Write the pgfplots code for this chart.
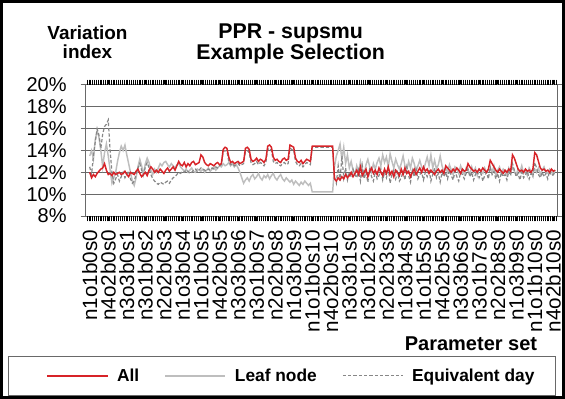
\documentclass[border=0pt]{standalone}
\usepackage{pgfplots}
\pgfplotsset{compat=1.18}
\usepackage{pgfplotstable}
\usepackage{fontspec}
\setmainfont{Liberation Sans}
\definecolor{allred}{RGB}{215,35,40}
\definecolor{leafgray}{RGB}{190,190,190}
\definecolor{eqgray}{RGB}{135,135,135}
\definecolor{gridgray}{RGB}{105,105,105}

\pgfplotstableread[row sep=\\]{y\\
12.0\\11.5\\11.8\\11.6\\11.9\\12.1\\12.3\\12.4\\12.8\\12.2\\11.8\\11.9\\
11.7\\12.0\\11.8\\11.9\\12.0\\11.8\\11.9\\12.1\\11.8\\11.6\\12.0\\11.9\\
11.8\\12.1\\12.3\\11.9\\11.6\\11.8\\12.0\\11.7\\12.2\\12.5\\12.3\\12.0\\
12.2\\12.0\\12.3\\12.1\\11.9\\12.2\\12.4\\12.1\\12.3\\12.5\\12.2\\12.6\\
13.0\\12.7\\12.6\\12.9\\12.5\\12.8\\12.6\\12.9\\13.0\\12.7\\12.8\\12.9\\
13.6\\13.4\\12.9\\12.7\\12.6\\12.8\\12.7\\12.6\\12.8\\12.9\\12.7\\12.8\\
14.1\\14.3\\14.2\\13.4\\12.9\\13.0\\12.8\\12.9\\13.0\\12.8\\12.9\\13.0\\
14.2\\14.3\\14.1\\13.2\\13.0\\13.1\\13.3\\13.0\\13.2\\13.1\\12.9\\13.2\\
14.4\\14.5\\14.3\\13.4\\13.1\\13.2\\13.0\\12.9\\13.2\\13.3\\13.1\\13.2\\
14.5\\14.4\\14.3\\13.3\\13.0\\12.9\\13.1\\12.8\\13.0\\13.2\\13.1\\13.0\\
14.4\\14.4\\14.4\\14.4\\14.4\\14.4\\14.4\\14.4\\14.4\\14.4\\14.4\\14.4\\
11.4\\11.2\\11.5\\11.3\\11.6\\11.4\\11.8\\11.5\\11.7\\12.0\\11.6\\11.9\\
12.2\\11.8\\12.5\\11.7\\12.0\\12.3\\11.6\\12.1\\12.4\\11.9\\12.2\\11.8\\
12.4\\12.0\\11.7\\12.3\\11.9\\12.5\\11.8\\12.1\\11.6\\12.2\\12.0\\11.7\\
12.3\\11.8\\12.4\\11.9\\12.1\\11.6\\12.0\\12.3\\11.8\\12.1\\12.4\\12.0\\
12.5\\12.1\\12.3\\11.9\\12.2\\12.0\\11.8\\12.1\\12.3\\12.0\\12.2\\11.9\\
12.6\\12.4\\12.2\\12.0\\12.3\\12.1\\12.4\\12.2\\11.9\\12.3\\12.1\\12.2\\
12.8\\12.5\\12.3\\12.1\\12.2\\12.0\\12.3\\12.1\\12.4\\12.2\\12.0\\12.3\\
13.1\\12.8\\12.5\\12.2\\12.0\\12.3\\12.1\\11.9\\12.2\\12.0\\12.3\\12.1\\
13.6\\13.3\\12.8\\12.3\\12.1\\12.2\\12.0\\12.3\\12.1\\12.2\\12.0\\12.3\\
13.8\\13.6\\13.0\\12.4\\12.2\\12.3\\12.1\\12.2\\12.0\\12.3\\12.1\\12.2\\
}\tAll

\pgfplotstableread[row sep=\\]{y\\
13.5\\14.0\\13.2\\15.0\\15.8\\15.2\\14.0\\12.5\\13.8\\14.6\\13.5\\12.2\\
11.0\\11.5\\12.0\\13.0\\13.8\\14.4\\14.0\\14.5\\13.6\\12.8\\12.0\\11.2\\
10.8\\11.5\\12.5\\13.2\\12.6\\11.8\\12.8\\13.3\\12.9\\12.2\\11.8\\12.3\\
12.0\\12.4\\12.8\\12.6\\12.9\\13.0\\12.7\\12.5\\12.8\\12.6\\12.4\\12.7\\
12.8\\12.5\\12.3\\12.1\\12.3\\12.0\\12.2\\12.4\\12.1\\12.0\\12.3\\12.2\\
12.1\\12.3\\12.0\\12.2\\12.4\\12.1\\12.3\\12.5\\12.2\\12.4\\12.6\\12.5\\
12.8\\12.6\\12.7\\12.9\\12.6\\12.8\\12.5\\12.7\\12.4\\12.0\\11.5\\11.0\\
11.3\\11.5\\11.2\\11.6\\11.8\\11.4\\11.6\\11.9\\11.5\\11.3\\11.7\\11.5\\
11.8\\11.4\\11.7\\11.9\\11.5\\11.3\\11.6\\11.8\\11.4\\11.2\\11.5\\11.3\\
11.1\\11.3\\10.9\\11.2\\11.0\\10.8\\11.1\\10.9\\11.2\\11.0\\10.8\\11.0\\
10.2\\10.2\\10.2\\10.2\\10.2\\10.2\\10.2\\10.2\\10.2\\10.2\\10.2\\10.2\\
12.5\\13.5\\14.0\\14.6\\13.2\\14.3\\12.8\\13.6\\12.4\\13.0\\12.2\\11.8\\
12.6\\12.0\\13.0\\12.3\\11.8\\12.7\\13.2\\12.5\\12.0\\12.8\\12.3\\12.9\\
13.3\\12.6\\13.6\\12.9\\13.4\\12.5\\13.7\\13.0\\12.4\\13.2\\12.7\\12.3\\
12.8\\13.5\\12.6\\12.2\\13.0\\12.4\\13.3\\12.8\\12.1\\12.6\\13.1\\12.5\\
12.2\\12.8\\13.4\\12.6\\13.6\\12.4\\13.1\\12.3\\12.7\\13.5\\12.6\\12.0\\
12.4\\12.0\\12.7\\12.2\\11.8\\12.5\\12.3\\11.9\\12.6\\12.1\\11.8\\12.4\\
12.2\\11.8\\12.5\\12.0\\12.4\\11.7\\12.3\\12.1\\11.9\\12.4\\12.0\\12.2\\
12.3\\12.0\\12.6\\11.8\\12.2\\12.5\\11.9\\12.3\\12.1\\11.7\\12.4\\12.0\\
12.5\\12.1\\11.8\\12.3\\12.0\\12.6\\11.9\\12.2\\11.7\\12.4\\12.1\\11.9\\
12.3\\12.0\\12.4\\11.8\\12.2\\12.5\\12.0\\11.9\\12.3\\12.1\\11.8\\12.2\\
}\tLeaf

\pgfplotstableread[row sep=\\]{y\\
12.5\\11.8\\13.5\\14.8\\16.0\\15.4\\14.2\\15.5\\16.2\\16.4\\16.8\\14.0\\
12.0\\11.0\\11.4\\11.8\\11.2\\11.6\\12.0\\11.5\\11.8\\12.1\\11.4\\11.0\\
11.2\\11.8\\12.4\\12.8\\12.2\\11.8\\12.5\\12.9\\12.4\\11.8\\11.4\\11.2\\
11.0\\10.9\\11.1\\11.0\\10.9\\11.1\\11.2\\11.0\\11.3\\11.5\\11.6\\11.8\\
12.0\\11.9\\12.1\\12.0\\12.2\\12.1\\11.9\\12.0\\12.2\\12.3\\12.1\\12.2\\
12.4\\12.3\\12.2\\12.1\\12.3\\12.2\\12.4\\12.3\\12.5\\12.4\\12.6\\12.7\\
13.9\\14.0\\13.9\\13.0\\12.7\\12.8\\12.6\\12.7\\12.8\\12.6\\12.7\\12.8\\
13.9\\14.0\\13.8\\12.9\\12.7\\12.8\\13.0\\12.7\\12.9\\12.8\\12.6\\12.9\\
14.1\\14.2\\14.0\\13.0\\12.8\\12.9\\12.7\\12.6\\12.8\\12.9\\12.7\\12.8\\
14.2\\14.1\\14.0\\13.0\\12.7\\12.6\\12.8\\12.5\\12.7\\12.9\\12.8\\12.7\\
14.3\\14.3\\14.3\\14.3\\14.3\\14.3\\14.3\\14.3\\14.3\\14.3\\14.3\\14.3\\
11.6\\11.0\\12.6\\11.2\\13.5\\11.5\\12.4\\11.3\\12.0\\11.6\\12.3\\11.8\\
11.5\\12.2\\11.2\\12.6\\11.4\\12.0\\11.1\\12.4\\11.6\\11.2\\12.1\\11.4\\
11.7\\12.3\\11.3\\12.0\\11.5\\12.4\\11.0\\11.8\\12.2\\11.4\\12.0\\11.2\\
11.5\\12.1\\11.3\\12.5\\11.7\\11.1\\12.2\\11.6\\12.3\\11.4\\11.8\\12.0\\
11.3\\12.0\\11.6\\12.3\\11.2\\11.8\\12.4\\11.5\\11.9\\11.1\\12.0\\11.6\\
12.0\\11.4\\12.2\\11.7\\11.3\\12.1\\11.6\\11.2\\12.0\\11.8\\11.4\\11.9\\
12.3\\11.6\\12.0\\11.3\\11.8\\12.1\\11.5\\11.9\\11.2\\11.7\\12.0\\11.4\\
12.5\\11.8\\12.1\\11.4\\11.9\\11.2\\12.0\\11.6\\11.8\\11.3\\12.1\\11.7\\
12.8\\12.2\\11.6\\11.9\\11.3\\12.0\\11.5\\11.8\\12.1\\11.4\\11.9\\11.6\\
12.9\\12.4\\11.8\\11.5\\12.0\\11.6\\11.9\\11.4\\12.1\\11.7\\11.8\\12.0\\
}\tEq

\begin{document}
\begin{tikzpicture}[x=1pt,y=1pt]
\useasboundingbox (0,0) rectangle (423.75,-299.25);
\draw[line width=2pt] (1,-1) rectangle (422.75,-298.25);
\node[font=\bfseries\fontsize{14.2}{14}\selectfont, anchor=base] at (65.6,-29.5) {Variation};
\node[font=\bfseries\fontsize{14.2}{14}\selectfont, anchor=base] at (65.6,-44) {index};
\node[font=\bfseries\fontsize{16}{14}\selectfont, anchor=base] at (218,-29) {PPR - supsmu};
\node[font=\bfseries\fontsize{16}{14}\selectfont, anchor=base] at (218,-44.5) {Example Selection};
\node[font=\bfseries\fontsize{15}{17}\selectfont] at (353.25,-258) {Parameter set};
\begin{axis}[
  at={(64.5pt,-162pt)}, anchor=south west,
  scale only axis, width=353.25pt, height=98.25pt,
  xmin=-2, xmax=252, ymin=8, ymax=20,
  ytick={8,10,...,20},
  yticklabel={\pgfmathprintnumber{\tick}\%},
  ymajorgrids, grid style={gridgray, line width=0.75pt},
  axis line style={gridgray, line width=0.75pt},
  tick align=outside, major tick length=4pt,
  ytick style={gridgray, line width=0.75pt},
  xtick={0,10,...,250},
  xticklabels={n1o1b0s0,n4o2b0s0,n3o3b0s1,n3o1b0s2,n2o2b0s3,n1o3b0s4,n1o1b0s5,n4o2b0s5,n3o3b0s6,n3o1b0s7,n2o2b0s8,n1o3b0s9,n1o1b0s10,n4o2b0s10,n3o3b1s0,n3o1b2s0,n2o2b3s0,n1o3b4s0,n1o1b5s0,n4o2b5s0,n3o3b6s0,n3o1b7s0,n2o2b8s0,n1o3b9s0,n1o1b10s0,n4o2b10s0},
  xtick style={draw=black, line width=0.4pt},
  x tick label style={yshift=-3pt, rotate=90, anchor=east, font=\fontsize{15.5}{15.5}\selectfont},
  y tick label style={xshift=-7pt, font=\fontsize{15}{15}\selectfont},
  extra x ticks={-1.5,-0.5,...,251.5},
  extra x tick labels={},
  extra x tick style={grid=none, tick style={draw=black, line width=0.4pt}},
  /pgf/number format/assume math mode=true,
  legend columns=3,
  legend image code/.code={\path (0pt,0pt); \draw[#1] (14.5pt,0pt) -- (59.5pt,0pt);},
  legend style={at={(axis description cs:-0.1656,-1.069)}, anchor=north west,
    draw=gridgray, line width=0.75pt, font=\bfseries\fontsize{13}{15}\selectfont,
    inner xsep=14pt, inner ysep=7pt,
    /tikz/every odd column/.append style={column sep=4.5pt},
    /tikz/every even column/.append style={column sep=2.5pt}},
]
\addlegendimage{allred, line width=1.5pt}
\addlegendentry{All}
\addlegendimage{leafgray, line width=1.2pt}
\addlegendentry{Leaf node}
\addlegendimage{eqgray, line width=1pt, dash pattern=on 2.5pt off 1.5pt}
\addlegendentry{Equivalent day}
\addplot[leafgray, line width=1.1pt, forget plot] table[x expr=\coordindex, y=y]{\tLeaf};
\addplot[eqgray, line width=0.9pt, dash pattern=on 2.5pt off 1.5pt, forget plot] table[x expr=\coordindex, y=y]{\tEq};
\addplot[allred, line width=1.1pt, forget plot] table[x expr=\coordindex, y=y]{\tAll};
\end{axis}
\end{tikzpicture}
\end{document}
